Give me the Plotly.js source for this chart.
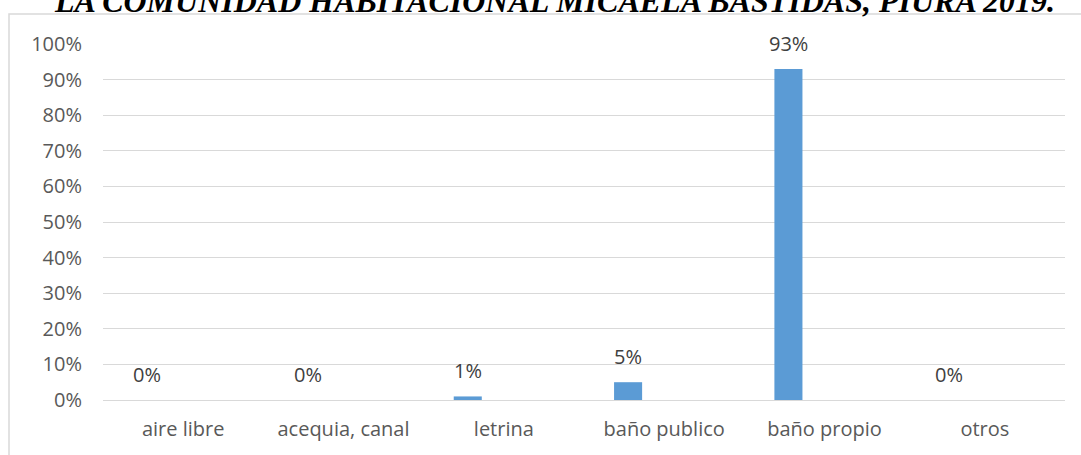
<!DOCTYPE html>
<html>
<head>
<meta charset="utf-8">
<script src="https://cdn.plot.ly/plotly-3.0.1.min.js"></script>
<style>html,body{margin:0;padding:0;background:#fff;}#chart{width:1081px;height:455px;}</style>
</head>
<body>
<div id="chart"></div>
<script>
const categories = ["aire libre", "acequia, canal", "letrina", "baño publico", "baño propio", "otros"];
const values = [0, 0, 0.01, 0.05, 0.93, 0];
const valueLabels = ["0%", "0%", "1%", "5%", "93%", "0%"];
const yTickValues = [0, 0.1, 0.2, 0.3, 0.4, 0.5, 0.6, 0.7, 0.8, 0.9, 1.0];
const titleText = "LA COMUNIDAD HABITACIONAL MICAELA BASTIDAS, PIURA 2019.";

const W = 1081, H = 455;
const margin = {l: 103, r: 16, t: 44, b: 55};
const plotW = W - margin.l - margin.r, plotH = H - margin.t - margin.b;
const px2x = p => (p - margin.l) / plotW;
const px2y = p => (H - margin.b - p) / plotH;

const labelFont = {family: "Open Sans, sans-serif", size: 20, color: "#595959"};

const annotations = categories.map((c, i) => ({
  x: c, y: values[i], xref: "x", yref: "y",
  text: valueLabels[i], showarrow: false,
  xshift: -36, yshift: 10, yanchor: "bottom",
  font: {family: "Open Sans, sans-serif", size: 20, color: "#404040"}
}));

const data = [{
  type: "bar",
  x: categories,
  y: values,
  width: 0.175,
  offset: -0.3125,
  marker: {color: "#5b9bd5"},
  hoverinfo: "skip"
}];

const layout = {
  width: W, height: H,
  margin: margin,
  paper_bgcolor: "#ffffff",
  plot_bgcolor: "#ffffff",
  showlegend: false,
  title: {
    text: "<b><i>" + titleText + "</i></b>",
    font: {family: "Liberation Serif, Times New Roman, serif", size: 32, color: "#000000"},
    xref: "paper", x: px2x(555), xanchor: "center",
    yref: "container", y: 1 - 12 / H, yanchor: "bottom"
  },
  xaxis: {
    type: "category",
    showgrid: false, zeroline: false, showline: false,
    ticks: "", tickfont: labelFont,
    ticklabelstandoff: 15,
    fixedrange: true
  },
  yaxis: {
    range: [0, 1],
    tickvals: yTickValues,
    tickformat: ".0%",
    showgrid: true, gridcolor: "#d9d9d9", gridwidth: 1,
    zeroline: true, zerolinecolor: "#d9d9d9", zerolinewidth: 1,
    showline: false, ticks: "",
    tickfont: labelFont,
    ticklabelstandoff: 20,
    fixedrange: true
  },
  annotations: annotations,
  shapes: [{
    type: "rect", xref: "paper", yref: "paper",
    x0: px2x(9), x1: px2x(1090), y0: px2y(470), y1: px2y(14),
    line: {color: "#d9d9d9", width: 1.5}, fillcolor: "rgba(0,0,0,0)", layer: "below"
  }]
};

Plotly.newPlot("chart", data, layout, {displayModeBar: false, staticPlot: true});
</script>
</body>
</html>
